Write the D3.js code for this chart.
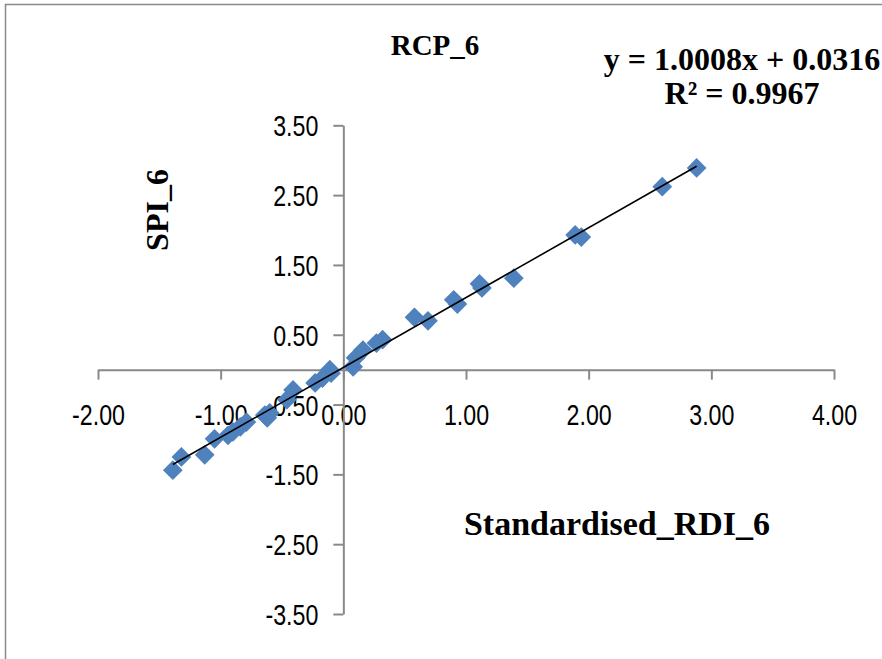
<!DOCTYPE html>
<html>
<head>
<meta charset="utf-8">
<script src="https://cdn.jsdelivr.net/npm/d3@7"></script>
<style>
  html, body { margin: 0; padding: 0; background: #fff; }
  svg { display: block; }
</style>
</head>
<body>
<svg id="chart" width="882" height="659"></svg>
<script>
// Standardised RDI_6 vs SPI_6 under RCP 6
const rdi = [-1.39, -1.32, -1.13, -1.05, -0.94, -0.90, -0.84, -0.79, -0.64, -0.62, -0.60,
             -0.46, -0.41, -0.23, -0.17, -0.11, -0.10, 0.08, 0.10, 0.16, 0.27, 0.32,
             0.58, 0.69, 0.90, 0.93, 1.11, 1.13, 1.39, 1.89, 1.94, 2.60, 2.88];
const spi = [-1.44, -1.25, -1.22, -0.99, -0.94, -0.89, -0.82, -0.75, -0.65, -0.69, -0.62,
             -0.43, -0.29, -0.19, -0.12, 0.00, -0.05, 0.04, 0.17, 0.28, 0.38, 0.43,
             0.75, 0.70, 1.00, 0.94, 1.23, 1.17, 1.31, 1.93, 1.90, 2.62, 2.89];
const xTicks = [-2, -1, 0, 1, 2, 3, 4];
const yTicks = [-3.5, -2.5, -1.5, -0.5, 0.5, 1.5, 2.5, 3.5];
const slope = 1.0008, intercept = 0.0316, r2 = 0.9967;

const svg = d3.select("#chart");
const x = d3.scaleLinear().domain([-2, 4]).range([98, 834]);
const y = d3.scaleLinear().domain([-3.5, 3.5]).range([614, 125.3]);
const grey = "#898989";
const tickFont = "'Liberation Sans', Arial, sans-serif";
const serif = "'Liberation Serif', 'Times New Roman', serif";
const squeeze = 0.8;   // narrow tick numerals
const fmt = d => d3.format(".2f")(d).replace("\u2212", "-");

// chart frame
svg.append("path")
  .attr("d", "M5.5,662V4.5H890")
  .attr("fill", "none").attr("stroke", grey).attr("stroke-width", 1.5);

// axes crossing at the origin
const xAxis = d3.axisBottom(x).tickValues(xTicks).tickSize(10).tickSizeOuter(0).tickFormat(fmt);
const yAxis = d3.axisLeft(y).tickValues(yTicks).tickSize(10).tickSizeOuter(0).tickFormat(fmt);

const gx = svg.append("g").attr("transform", `translate(0,${y(0)})`).call(xAxis);
const gy = svg.append("g").attr("transform", `translate(${x(0)},0)`).call(yAxis);

[gx, gy].forEach(g => {
  g.select(".domain").attr("stroke", grey).attr("stroke-width", 2);
  g.selectAll(".tick line").attr("stroke", grey).attr("stroke-width", 2);
  g.selectAll(".tick text")
    .attr("fill", "#000")
    .style("font-family", tickFont)
    .style("font-size", "29px");
});
gx.selectAll(".tick text")
  .attr("x", 0).attr("y", 0).attr("dy", null)
  .attr("transform", `translate(0,55) scale(${squeeze},1)`);
gy.selectAll(".tick text")
  .attr("x", 0).attr("y", 0).attr("dy", null)
  .attr("transform", `translate(-25,10.5) scale(${squeeze},1)`);

// data points
const pts = d3.range(rdi.length).map(i => ({ x: rdi[i], y: spi[i] }));
svg.append("g").selectAll("path")
  .data(pts).join("path")
  .attr("transform", d => `translate(${x(d.x)},${y(d.y)}) rotate(45)`)
  .attr("d", d3.symbol().type(d3.symbolSquare).size(195))
  .attr("fill", "#4F81BD");

// linear trendline over the data range
const xr = d3.extent(rdi);
svg.append("line")
  .attr("x1", x(xr[0])).attr("y1", y(slope * xr[0] + intercept))
  .attr("x2", x(xr[1])).attr("y2", y(slope * xr[1] + intercept))
  .attr("stroke", "#000").attr("stroke-width", 1.6);

// titles
const bold = (sel) => sel.style("font-family", serif).style("font-weight", "bold").attr("fill", "#000");
svg.append("text").attr("x", 435).attr("y", 55).attr("text-anchor", "middle")
  .style("font-size", "29px").text("RCP_6").call(bold);
svg.append("text").attr("x", 742).attr("y", 70).attr("text-anchor", "middle")
  .style("font-size", "32px").text(`y = ${slope.toFixed(4)}x + ${intercept.toFixed(4)}`).call(bold);
svg.append("text").attr("x", 742).attr("y", 104).attr("text-anchor", "middle")
  .style("font-size", "32px").text(`R² = ${r2.toFixed(4)}`).call(bold);
svg.append("text").attr("transform", "translate(168,210) rotate(-90)").attr("text-anchor", "middle")
  .style("font-size", "32px").text("SPI_6").call(bold);
svg.append("text").attr("x", 617).attr("y", 535).attr("text-anchor", "middle")
  .style("font-size", "34px").text("Standardised_RDI_6").call(bold);
</script>
</body>
</html>
